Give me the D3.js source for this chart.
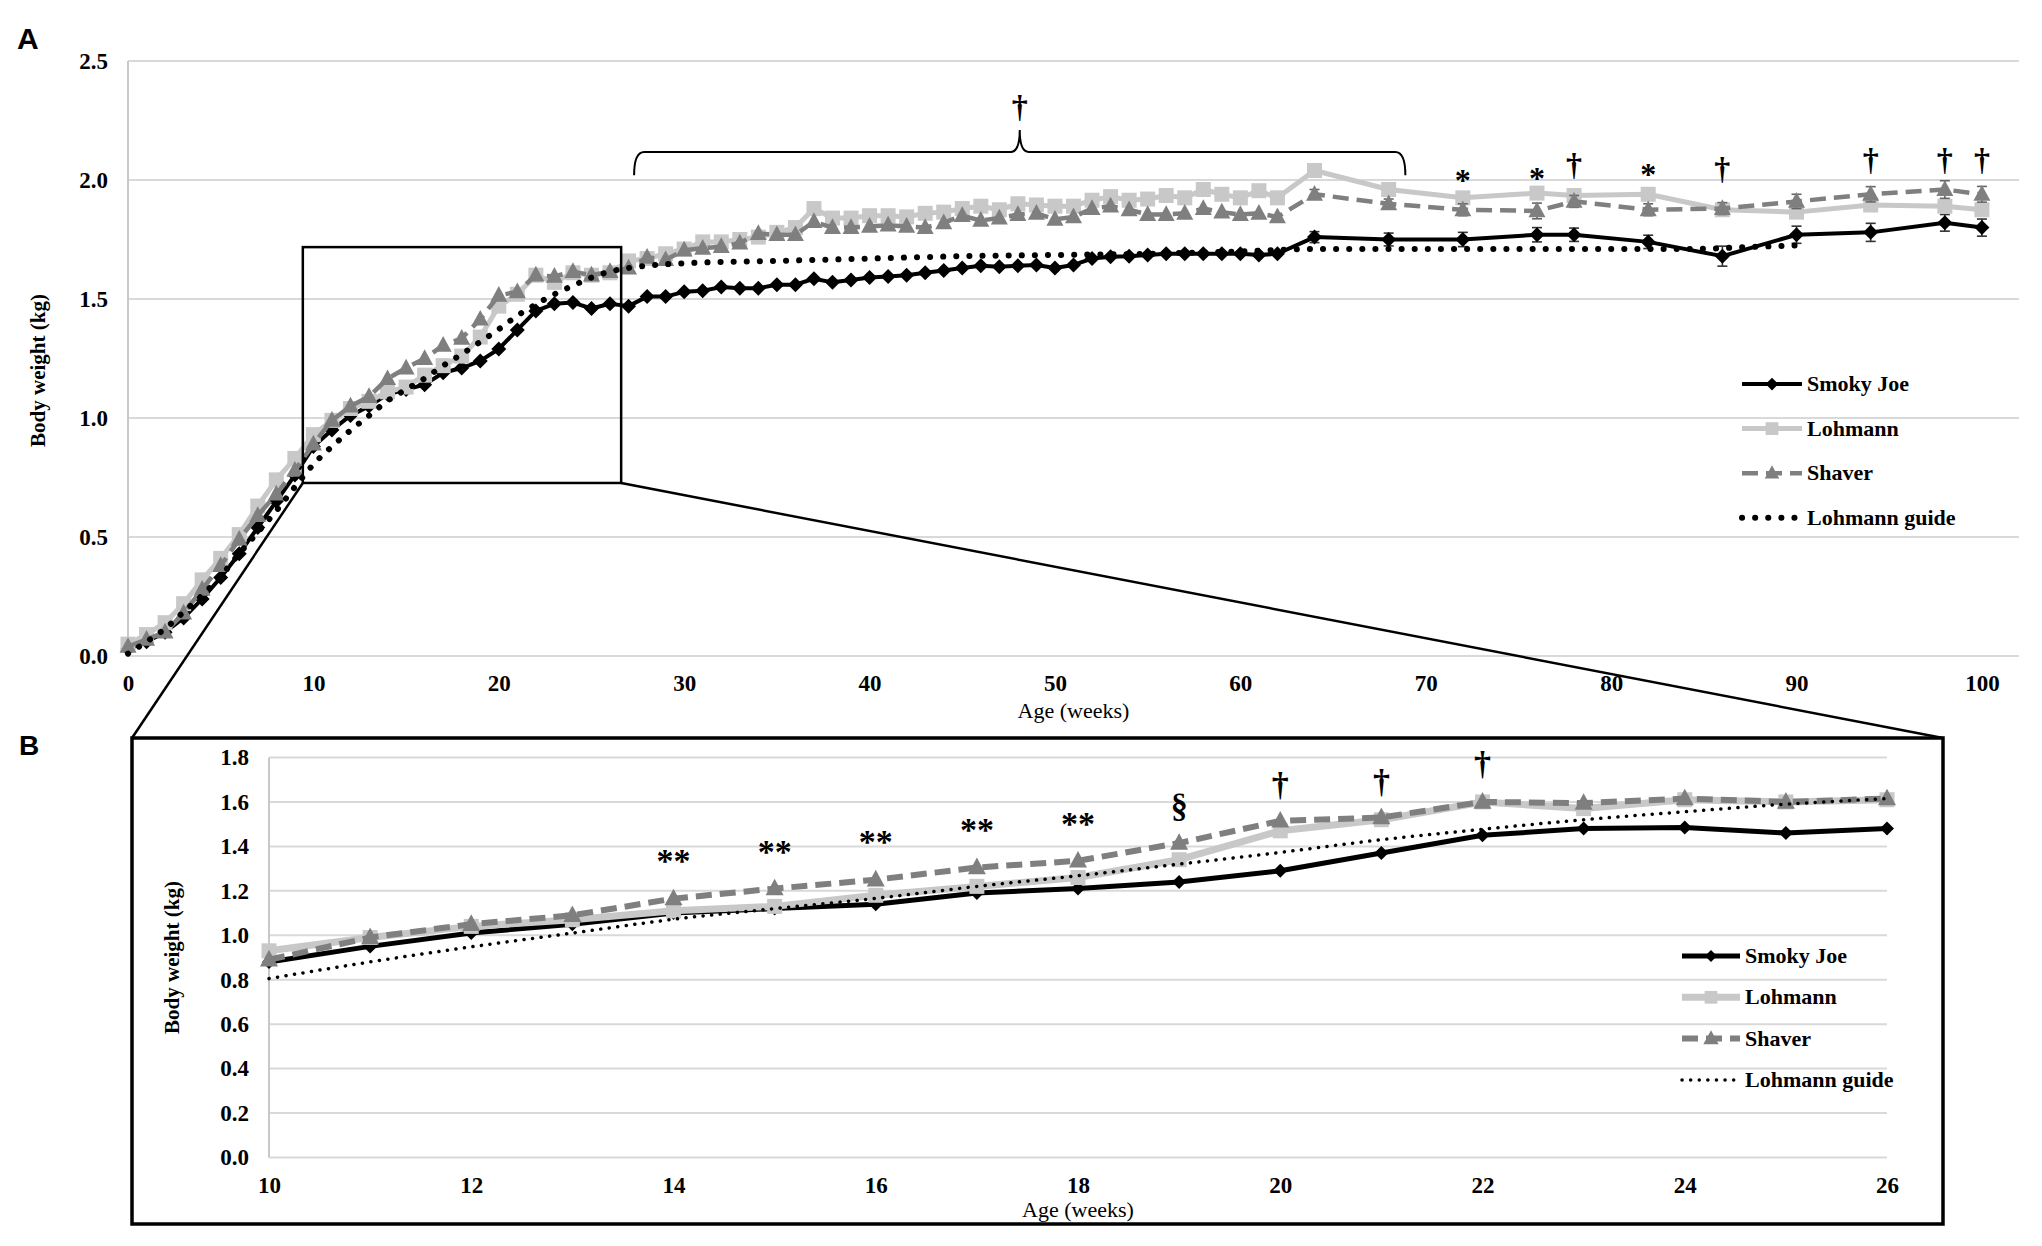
<!DOCTYPE html>
<html>
<head>
<meta charset="utf-8">
<script src="https://cdn.jsdelivr.net/npm/d3@7"></script>
<style>
  body { margin: 0; background: #fff; }
  text { font-family: "Liberation Serif", "Times New Roman", serif; }
</style>
</head>
<body>
<svg id="chart" width="2042" height="1246"></svg>
<script>
// weeks with measurements (weekly to 62, then sparse)
const weeks = [0,1,2,3,4,5,6,7,8,9,10,11,12,13,14,15,16,17,18,19,20,21,22,23,24,25,26,27,28,29,
  30,31,32,33,34,35,36,37,38,39,40,41,42,43,44,45,46,47,48,49,50,51,52,53,54,55,56,57,58,59,60,61,62,
  64,68,72,76,78,82,86,90,94,98,100];

const smokyJoe = [0.03,0.06,0.10,0.16,0.24,0.33,0.43,0.54,0.65,0.76,
  0.88,0.95,1.01,1.05,1.10,1.12,1.14,1.19,1.21,1.24,
  1.29,1.37,1.45,1.48,1.485,1.46,1.48,1.47,1.51,1.51,
  1.53,1.535,1.55,1.545,1.545,1.56,1.56,1.585,1.57,1.58,
  1.59,1.595,1.60,1.61,1.62,1.63,1.64,1.635,1.64,1.643,
  1.63,1.643,1.67,1.678,1.68,1.685,1.69,1.69,1.69,1.69,
  1.69,1.685,1.69,
  1.76,1.75,1.75,1.77,1.77,1.74,1.68,1.77,1.78,1.82,1.80];

const lohmann = [0.05,0.09,0.14,0.22,0.32,0.41,0.51,0.63,0.74,0.83,
  0.93,0.99,1.04,1.07,1.11,1.13,1.18,1.22,1.26,1.34,
  1.47,1.52,1.60,1.57,1.61,1.60,1.61,1.66,1.67,1.69,
  1.71,1.74,1.74,1.75,1.76,1.78,1.80,1.88,1.84,1.84,
  1.85,1.85,1.845,1.86,1.865,1.88,1.89,1.875,1.90,1.895,
  1.89,1.89,1.915,1.93,1.915,1.92,1.935,1.925,1.96,1.94,
  1.925,1.955,1.925,
  2.04,1.96,1.925,1.945,1.935,1.94,1.875,1.865,1.895,1.89,1.875];

const shaver = [0.04,0.07,0.10,0.18,0.28,0.38,0.49,0.59,0.68,0.78,
  0.89,0.99,1.05,1.09,1.165,1.21,1.25,1.305,1.335,1.415,
  1.515,1.53,1.60,1.595,1.615,1.60,1.615,1.63,1.675,1.665,
  1.705,1.713,1.72,1.735,1.775,1.77,1.77,1.825,1.80,1.80,
  1.805,1.81,1.805,1.80,1.82,1.85,1.83,1.84,1.855,1.86,
  1.835,1.845,1.88,1.89,1.875,1.855,1.855,1.86,1.88,1.865,
  1.855,1.86,1.845,
  1.94,1.90,1.875,1.87,1.91,1.875,1.88,1.91,1.94,1.96,1.94];

const guideWeeks = [0,1,2,3,4,5,6,7,8,9,10,11,12,13,14,15,16,17,18,19,20,21,22,23,24,25,26,
  28,30,35,40,45,50,55,60,64,70,80,84,88,90];
const guideVals = [0.01,0.06,0.115,0.185,0.255,0.335,0.43,0.52,0.61,0.71,0.805,0.88,0.948,1.01,1.072,
  1.12,1.166,1.22,1.268,1.32,1.373,1.43,1.477,1.52,1.556,1.59,1.615,
  1.64,1.65,1.66,1.67,1.68,1.685,1.69,1.70,1.71,1.71,1.71,1.71,1.72,1.725];

// standard errors at the later sparse weeks
const errWeeks = [64,68,72,76,78,82,86,90,94,98,100];
const smokyErr = [0.023,0.027,0.03,0.03,0.028,0.028,0.042,0.036,0.038,0.035,0.036];
const lohmannErr = [0.02,0.02,0.02,0.02,0.02,0.02,0.02,0.02,0.02,0.02,0.02];
const shaverErr = [0.02,0.02,0.025,0.033,0.025,0.025,0.025,0.03,0.032,0.037,0.033];

const legendNames = ["Smoky Joe", "Lohmann", "Shaver", "Lohmann guide"];

// significance marks
const marksA = [
  {w:48.1, v:2.30, s:"†"}, {w:72, v:2.02, s:"*"}, {w:76, v:2.03, s:"*"}, {w:78, v:2.055, s:"†"},
  {w:82, v:2.045, s:"*"}, {w:86, v:2.04, s:"†"}, {w:94, v:2.075, s:"†"}, {w:98, v:2.075, s:"†"},
  {w:100, v:2.075, s:"†"}];
const marksB = [
  {w:14, v:1.363, s:"**"}, {w:15, v:1.403, s:"**"}, {w:16, v:1.445, s:"**"}, {w:17, v:1.499, s:"**"},
  {w:18, v:1.527, s:"**"}, {w:19, v:1.574, s:"§"}, {w:20, v:1.666, s:"†"}, {w:21, v:1.678, s:"†"},
  {w:22, v:1.76, s:"†"}];

// brace over weeks 27-69, and the zoomed region
const braceSpan = [27.3, 48.1, 68.9];
const braceLevels = [2.02, 2.118, 2.21];
const zoomWeeks = [9.43, 26.6];
const zoomKg = [0.727, 1.718];

const svg = d3.select("#chart");

function markerPath(shape, r) {
  if (shape === "diamond") return `M0,${-r}L${r},0L0,${r}L${-r},0Z`;
  if (shape === "square") return `M${-r},${-r}H${r}V${r}H${-r}Z`;
  if (shape === "triangle") return `M0,${-r*1.1}L${r},${r*0.75}L${-r},${r*0.75}Z`;
  return "";
}

const rows = weeks.map((w, i) => ({w: w, sj: smokyJoe[i], lo: lohmann[i], sh: shaver[i]}));
const guideRows = guideWeeks.map((w, i) => ({w: w, v: guideVals[i]}));

function drawPanel(cfg) {
  const x = cfg.x, y = cfg.y;
  const g = svg.append("g");
  const [x0, x1] = x.range();

  // grid
  g.append("g").selectAll("line").data(cfg.yTicks).join("line")
    .attr("x1", x0).attr("x2", x1)
    .attr("y1", d => y(d)).attr("y2", d => y(d))
    .attr("stroke", "#d9d9d9").attr("stroke-width", 2);
  g.append("line").attr("x1", x0).attr("x2", x0)
    .attr("y1", y.range()[0]).attr("y2", y.range()[1])
    .attr("stroke", "#c8c8c8").attr("stroke-width", 2);

  const yAxis = g.append("g").attr("transform", `translate(${x0},0)`)
    .call(d3.axisLeft(y).tickValues(cfg.yTicks).tickFormat(d3.format(".1f")).tickSize(0).tickPadding(20));
  yAxis.select(".domain").remove();
  yAxis.selectAll("text").attr("font-weight", "bold").attr("font-size", 23).attr("fill", "#000");

  const xAxis = g.append("g").attr("transform", `translate(0,${y.range()[0]})`)
    .call(d3.axisBottom(x).tickValues(cfg.xTicks).tickSize(0).tickPadding(19));
  xAxis.select(".domain").remove();
  xAxis.selectAll("text").attr("font-weight", "bold").attr("font-size", 23).attr("fill", "#000");

  g.append("text").attr("x", (x0 + x1) / 2).attr("y", cfg.xTitleY)
    .attr("text-anchor", "middle").attr("font-size", 22).text("Age (weeks)");
  g.append("text")
    .attr("transform", `translate(${cfg.yTitleX},${(y.range()[0] + y.range()[1]) / 2 + cfg.yTitleShift}) rotate(-90)`)
    .attr("text-anchor", "middle").attr("font-size", 21).attr("font-weight", "bold")
    .text("Body weight (kg)");

  const data = rows.filter(d => d.w >= cfg.wMin && d.w <= cfg.wMax);
  const gdata = guideRows.filter(d => d.w >= cfg.wMin && d.w <= cfg.wMax);
  const st = cfg.styles;
  const keys = ["sj", "lo", "sh"];
  const errs = {sj: smokyErr, lo: lohmannErr, sh: shaverErr};

  keys.forEach(k => {
    const s = st[k];
    g.append("path").datum(data)
      .attr("fill", "none").attr("stroke", s.color).attr("stroke-width", s.width)
      .attr("stroke-dasharray", s.dash).attr("stroke-linejoin", "round")
      .attr("d", d3.line().x(d => x(d.w)).y(d => y(d[k])));
    // error bars
    const eb = errWeeks.map((w, i) => ({w: w, v: data.find(d => d.w === w), e: errs[k][i]}))
      .filter(d => d.v);
    const ge = g.append("g").attr("stroke", s.errColor).attr("stroke-width", 1.6);
    ge.selectAll("line.v").data(eb).join("line").attr("class", "v")
      .attr("x1", d => x(d.w)).attr("x2", d => x(d.w))
      .attr("y1", d => y(d.v[k] - d.e)).attr("y2", d => y(d.v[k] + d.e));
    ge.selectAll("line.t").data(eb).join("line").attr("class", "t")
      .attr("x1", d => x(d.w) - 5).attr("x2", d => x(d.w) + 5)
      .attr("y1", d => y(d.v[k] + d.e)).attr("y2", d => y(d.v[k] + d.e));
    ge.selectAll("line.b").data(eb).join("line").attr("class", "b")
      .attr("x1", d => x(d.w) - 5).attr("x2", d => x(d.w) + 5)
      .attr("y1", d => y(d.v[k] - d.e)).attr("y2", d => y(d.v[k] - d.e));
    g.append("g").selectAll("path").data(data).join("path")
      .attr("transform", d => `translate(${x(d.w)},${y(d[k])})`)
      .attr("d", markerPath(s.shape, s.r)).attr("fill", s.color);
  });

  g.append("path").datum(gdata)
    .attr("fill", "none").attr("stroke", "#000").attr("stroke-width", st.gu.width)
    .attr("stroke-dasharray", st.gu.dash).attr("stroke-linecap", "round")
    .attr("d", d3.line().curve(d3.curveMonotoneX).x(d => x(d.w)).y(d => y(d.v)));

  // legend
  const lg = g.append("g").attr("transform", `translate(${cfg.legend.x},${cfg.legend.y})`);
  ["sj", "lo", "sh", "gu"].forEach((k, i) => {
    const s = st[k];
    const row = lg.append("g").attr("transform", `translate(0,${i * cfg.legend.step})`);
    row.append("line").attr("x1", 0).attr("x2", cfg.legend.len)
      .attr("stroke", k === "gu" ? "#000" : s.color).attr("stroke-width", s.width)
      .attr("stroke-dasharray", s.dash).attr("stroke-linecap", k === "gu" ? "round" : "butt");
    if (s.shape) {
      row.append("path").attr("transform", `translate(${cfg.legend.len / 2},0)`)
        .attr("d", markerPath(s.shape, s.r * 0.85)).attr("fill", s.color);
    }
    row.append("text").attr("x", cfg.legend.len + 5).attr("y", 7)
      .attr("font-size", 22).attr("font-weight", "bold").text(legendNames[i]);
  });

  // significance marks
  const lift = {"*": 0.5, "**": 0.5, "†": 0.26, "§": 0.27};
  g.append("g").selectAll("text").data(cfg.marks).join("text")
    .attr("x", d => x(d.w)).attr("y", d => y(d.v) + lift[d.s] * cfg.markSize)
    .attr("text-anchor", "middle").attr("font-size", cfg.markSize).attr("font-weight", "bold")
    .text(d => d.s);
  return g;
}

// ---- panel A ----
const xA = d3.scaleLinear().domain([0, 102]).range([128, 2019]);
const yA = d3.scaleLinear().domain([0, 2.5]).range([656, 61]);

drawPanel({
  x: xA, y: yA, wMin: 0, wMax: 100,
  yTicks: [0, 0.5, 1.0, 1.5, 2.0, 2.5],
  xTicks: [0, 10, 20, 30, 40, 50, 60, 70, 80, 90, 100],
  xTitleY: 718, yTitleX: 45, yTitleShift: 12,
  styles: {
    sj: {color: "#000", errColor: "#333", width: 4, dash: null, shape: "diamond", r: 7.5},
    lo: {color: "#c8c8c8", errColor: "#aaa", width: 5, dash: null, shape: "square", r: 7.5},
    sh: {color: "#7f7f7f", errColor: "#666", width: 4.5, dash: "16,8", shape: "triangle", r: 8.5},
    gu: {width: 6, dash: "0.1,13"}
  },
  legend: {x: 1742, y: 384, step: 44.6, len: 60},
  marks: marksA, markSize: 32
});

// brace
const bx = braceSpan.map(xA), by = braceLevels.map(yA);
svg.append("path")
  .attr("d", `M${bx[0]},${by[0]}Q${bx[0]},${by[1]} ${bx[0] + 10},${by[1]}L${bx[1] - 9},${by[1]}` +
    `Q${bx[1]},${by[1]} ${bx[1]},${by[2]}Q${bx[1]},${by[1]} ${bx[1] + 9},${by[1]}` +
    `L${bx[2] - 10},${by[1]}Q${bx[2]},${by[1]} ${bx[2]},${by[0]}`)
  .attr("fill", "none").attr("stroke", "#000").attr("stroke-width", 2);

// zoom box and connectors to panel B frame
const zx = zoomWeeks.map(xA), zy = zoomKg.map(yA);
const frame = {x0: 132, x1: 1943, y0: 738, y1: 1224};
svg.append("rect").attr("x", zx[0]).attr("y", zy[1]).attr("width", zx[1] - zx[0]).attr("height", zy[0] - zy[1])
  .attr("fill", "none").attr("stroke", "#000").attr("stroke-width", 2.5);
svg.append("line").attr("x1", zx[0]).attr("y1", zy[0]).attr("x2", frame.x0).attr("y2", frame.y0)
  .attr("stroke", "#000").attr("stroke-width", 2.5);
svg.append("line").attr("x1", zx[1]).attr("y1", zy[0]).attr("x2", frame.x1).attr("y2", frame.y0)
  .attr("stroke", "#000").attr("stroke-width", 2.5);
svg.append("rect").attr("x", frame.x0).attr("y", frame.y0)
  .attr("width", frame.x1 - frame.x0).attr("height", frame.y1 - frame.y0)
  .attr("fill", "#fff").attr("stroke", "#000").attr("stroke-width", 3.5);

// ---- panel B ----
const xB = d3.scaleLinear().domain([10, 26]).range([269, 1887]);
const yB = d3.scaleLinear().domain([0, 1.8]).range([1157.5, 757.5]);

drawPanel({
  x: xB, y: yB, wMin: 10, wMax: 26,
  yTicks: [0, 0.2, 0.4, 0.6, 0.8, 1.0, 1.2, 1.4, 1.6, 1.8],
  xTicks: [10, 12, 14, 16, 18, 20, 22, 24, 26],
  xTitleY: 1217, yTitleX: 179, yTitleShift: 0,
  styles: {
    sj: {color: "#000", errColor: "#333", width: 5, dash: null, shape: "diamond", r: 7},
    lo: {color: "#c8c8c8", errColor: "#aaa", width: 7, dash: null, shape: "square", r: 7.5},
    sh: {color: "#7f7f7f", errColor: "#666", width: 6, dash: "16,8", shape: "triangle", r: 9},
    gu: {width: 3.5, dash: "0.1,8.5"}
  },
  legend: {x: 1682, y: 956, step: 41.3, len: 58},
  marks: marksB, markSize: 34
});

// panel letters
svg.append("text").attr("x", 17).attr("y", 49).style("font-family", "'Liberation Sans', Arial, sans-serif")
  .attr("font-weight", "bold").attr("font-size", 30).text("A");
svg.append("text").attr("x", 19).attr("y", 755).style("font-family", "'Liberation Sans', Arial, sans-serif")
  .attr("font-weight", "bold").attr("font-size", 28).text("B");
</script>
</body>
</html>
